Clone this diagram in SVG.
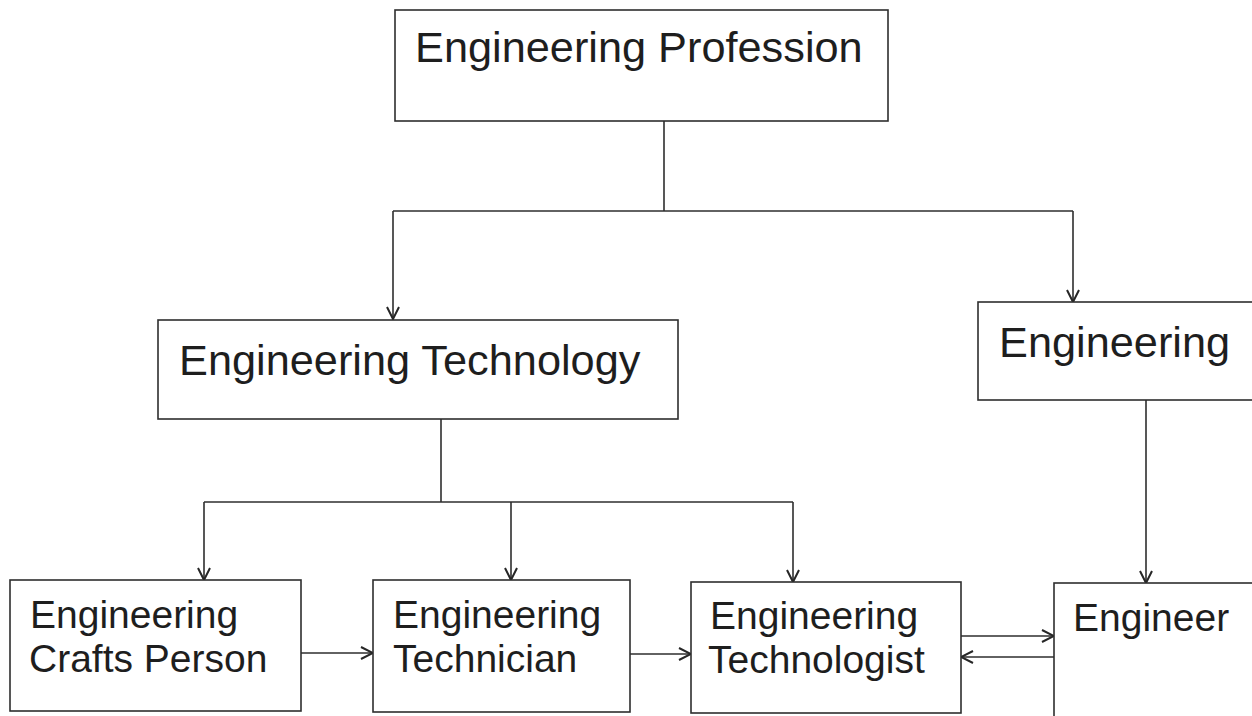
<svg xmlns="http://www.w3.org/2000/svg" width="1252" height="716" viewBox="0 0 1252 716">
  <defs>
    <marker id="open-arrow" viewBox="0 0 14 14" markerWidth="14" markerHeight="14" refX="13" refY="7" orient="auto" markerUnits="userSpaceOnUse">
      <path d="M1,1 L13,7 L1,13" fill="none" stroke="#262626" stroke-width="2" stroke-linejoin="miter"/>
    </marker>
    <style>
      .box { fill: #ffffff; stroke: #2e2e2e; stroke-width: 1.6; }
      .lbl { font-family: "Liberation Sans", Arial, sans-serif; fill: #1e1e1e; }
      .big { font-size: 43.3px; }
      .small { font-size: 39px; }
      .wire { fill: none; stroke: #2e2e2e; stroke-width: 1.6; }
      .arrow { fill: none; stroke: #2e2e2e; stroke-width: 1.6; marker-end: url(#open-arrow); }
    </style>
  </defs>

  <rect width="1252" height="716" fill="#ffffff"/>

  <!-- connectors -->
  <g id="connectors">
    <path class="wire" d="M664,121 V211"/>
    <path class="wire" d="M393,211 H1073"/>
    <path class="arrow" d="M393,211 V319"/>
    <path class="arrow" d="M1073,211 V302"/>

    <path class="wire" d="M441,419 V502"/>
    <path class="wire" d="M204,502 H793"/>
    <path class="arrow" d="M204,502 V580"/>
    <path class="arrow" d="M511,502 V580"/>
    <path class="arrow" d="M793,502 V582"/>

    <path class="arrow" d="M1146,400 V583"/>

    <path class="arrow" d="M301,653 H373"/>
    <path class="arrow" d="M630,654 H691"/>
    <path class="arrow" d="M961,636 H1054"/>
    <path class="arrow" d="M1054,657 H961"/>
  </g>

  <g id="engineering-profession">
    <rect class="box" x="395" y="10" width="493" height="111"/>
    <text class="lbl big" x="415" y="62">Engineering Profession</text>
  </g>

  <g id="engineering-technology">
    <rect class="box" x="158" y="320" width="520" height="99"/>
    <text class="lbl big" x="179" y="375">Engineering Technology</text>
  </g>

  <g id="engineering">
    <rect class="box" x="978" y="302" width="290" height="98"/>
    <text class="lbl big" x="999" y="357">Engineering</text>
  </g>

  <g id="crafts-person">
    <rect class="box" x="10" y="580" width="291" height="131"/>
    <text class="lbl small"><tspan x="30" y="628">Engineering</tspan><tspan x="29" y="672">Crafts Person</tspan></text>
  </g>

  <g id="technician">
    <rect class="box" x="373" y="580" width="257" height="132"/>
    <text class="lbl small"><tspan x="393" y="628">Engineering</tspan><tspan x="393" y="672">Technician</tspan></text>
  </g>

  <g id="technologist">
    <rect class="box" x="691" y="582" width="270" height="131"/>
    <text class="lbl small"><tspan x="710" y="629">Engineering</tspan><tspan x="708" y="673">Technologist</tspan></text>
  </g>

  <g id="engineer">
    <rect class="box" x="1054" y="583" width="214" height="150"/>
    <text class="lbl small" x="1073" y="631">Engineer</text>
  </g>
</svg>
